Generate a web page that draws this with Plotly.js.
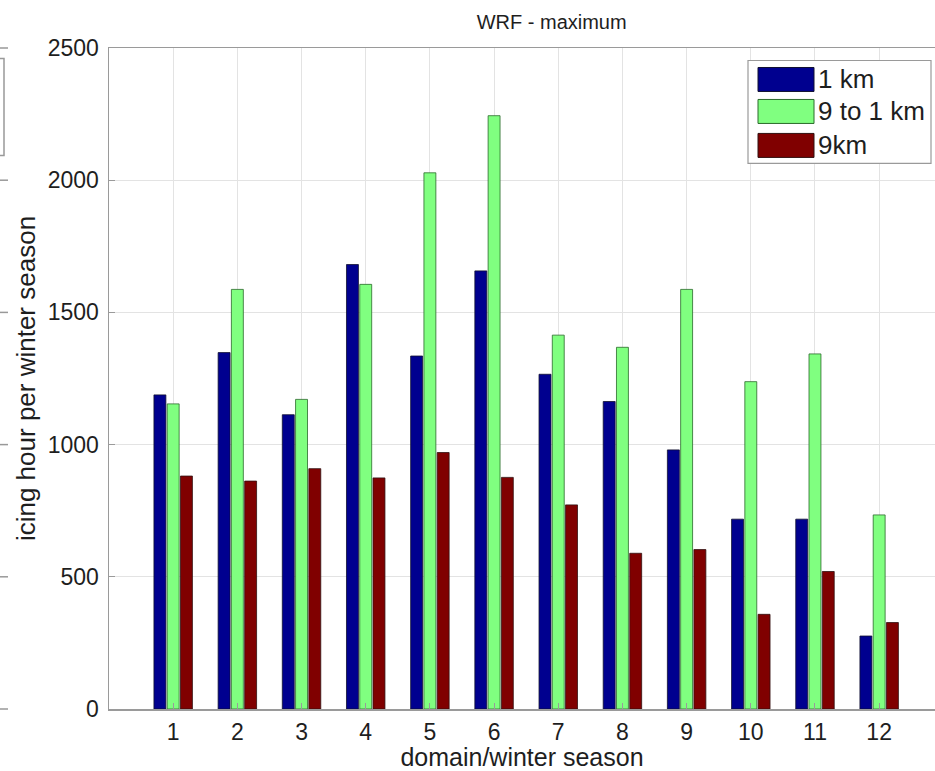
<!DOCTYPE html>
<html>
<head>
<meta charset="utf-8">
<script src="https://cdn.plot.ly/plotly-3.0.1.min.js"></script>
<style>html,body{margin:0;padding:0;background:#fff;}#chart{width:935px;height:771px;}</style>
</head>
<body>
<div id="chart"></div>
<script>
var categories = [1, 2, 3, 4, 5, 6, 7, 8, 9, 10, 11, 12];
var tickLabels = ["1","2","3","4","5","6","7","8","9","10","11","12"];
var series1km = [1188, 1348, 1113, 1681, 1335, 1657, 1266, 1163, 980, 718, 718, 276];
var series9to1km = [1154, 1587, 1171, 1606, 2028, 2244, 1414, 1368, 1587, 1238, 1343, 734];
var series9km = [881, 862, 909, 874, 970, 876, 772, 589, 603, 358, 520, 327];
var seriesNames = ["1 km", "9 to 1 km", "9km"];
var seriesColors = ["#00008f", "#80ff80", "#800000"];
var seriesEdges = ["#101030", "#2a6a2a", "#301010"];

var allSeries = [series1km, series9to1km, series9km];
var traces = allSeries.map(function(vals, i) {
  return {
    type: "bar",
    x: categories,
    y: vals,
    name: seriesNames[i],
    marker: {color: seriesColors[i], line: {color: seriesEdges[i], width: 0.8}},
    showlegend: false
  };
});

// plot-area pixel geometry helpers (for legend placement only)
var L = 109, R = 935, T = 47.5, B = 709;
function px(x) { return (x - L) / (R - L); }
function py(y) { return (B - y) / (B - T); }

var fontFam = "Liberation Sans, Arial, Helvetica, sans-serif";
var textColor = "#1e1e1e";

var shapes = [
  // remnants of the neighbouring panel at the left edge
  {type: "line", xref: "paper", yref: "paper", x0: px(0), x1: px(8), y0: 1, y1: 1, line: {color: "#999", width: 1.5}},
  {type: "rect", xref: "paper", yref: "paper", x0: px(-2), x1: px(4), y0: py(155), y1: py(58), line: {color: "#999", width: 1.5}},
  {type: "line", xref: "paper", yref: "paper", x0: px(0), x1: px(8), y0: 0.8, y1: 0.8, line: {color: "#999", width: 1.5}},
  {type: "line", xref: "paper", yref: "paper", x0: px(0), x1: px(8), y0: 0.6, y1: 0.6, line: {color: "#999", width: 1.5}},
  {type: "line", xref: "paper", yref: "paper", x0: px(0), x1: px(8), y0: 0.4, y1: 0.4, line: {color: "#999", width: 1.5}},
  {type: "line", xref: "paper", yref: "paper", x0: px(0), x1: px(8), y0: 0.2, y1: 0.2, line: {color: "#999", width: 1.5}},
  {type: "line", xref: "paper", yref: "paper", x0: px(0), x1: px(8), y0: 0, y1: 0, line: {color: "#999", width: 1.5}},
  // legend box
  {type: "rect", xref: "paper", yref: "paper", x0: px(748), x1: px(931), y0: py(163), y1: py(60),
   fillcolor: "#ffffff", line: {color: "#9a9a9a", width: 1.2}, layer: "above"}
];
var annotations = [];
var swatchTops = [67, 99, 133];
seriesNames.forEach(function(nm, i) {
  var t = swatchTops[i], b = t + 24;
  shapes.push({type: "rect", xref: "paper", yref: "paper", x0: px(758), x1: px(814), y0: py(b), y1: py(t),
    fillcolor: seriesColors[i], line: {color: seriesEdges[i], width: 1}, layer: "above"});
  annotations.push({xref: "paper", yref: "paper", x: px(816), y: py((t + b) / 2), xanchor: "left", yanchor: "middle",
    text: nm, showarrow: false, font: {family: fontFam, size: 26, color: textColor}});
});

var layout = {
  width: 935, height: 771,
  margin: {l: L, r: 0, t: T, b: 771 - B, pad: 0},
  paper_bgcolor: "#ffffff", plot_bgcolor: "#ffffff",
  barmode: "group", bargap: 0.38, bargroupgap: 0.1,
  font: {family: fontFam, color: textColor, size: 22},
  title: {text: "WRF - maximum", font: {family: fontFam, size: 20, color: textColor},
          xref: "container", x: 0.59, xanchor: "center", yref: "container", y: 0.972, yanchor: "middle"},
  xaxis: {
    range: [0, 12.87], tickvals: categories, ticktext: tickLabels,
    showgrid: true, gridcolor: "#e3e3e3", gridwidth: 1,
    showline: true, linecolor: "#9a9a9a", linewidth: 1.5, mirror: true,
    ticks: "inside", ticklen: 6, tickcolor: "#9a9a9a",
    zeroline: false, tickfont: {size: 23, family: fontFam, color: textColor},
    ticklabelstandoff: 2,
    title: {text: "domain/winter season", font: {size: 25, family: fontFam, color: textColor}, standoff: 6}
  },
  yaxis: {
    range: [0, 2500], tickvals: [0, 500, 1000, 1500, 2000, 2500],
    showgrid: true, gridcolor: "#e3e3e3", gridwidth: 1,
    showline: true, linecolor: "#9a9a9a", linewidth: 1.5, mirror: false,
    ticks: "inside", ticklen: 6, tickcolor: "#9a9a9a",
    zeroline: false, tickfont: {size: 23, family: fontFam, color: textColor},
    ticklabelstandoff: 4,
    title: {text: "icing hour per winter season", font: {size: 26, family: fontFam, color: textColor}, standoff: 4}
  },
  showlegend: false,
  shapes: shapes,
  annotations: annotations
};

Plotly.newPlot("chart", traces, layout, {displayModeBar: false, staticPlot: true});
</script>
</body>
</html>
